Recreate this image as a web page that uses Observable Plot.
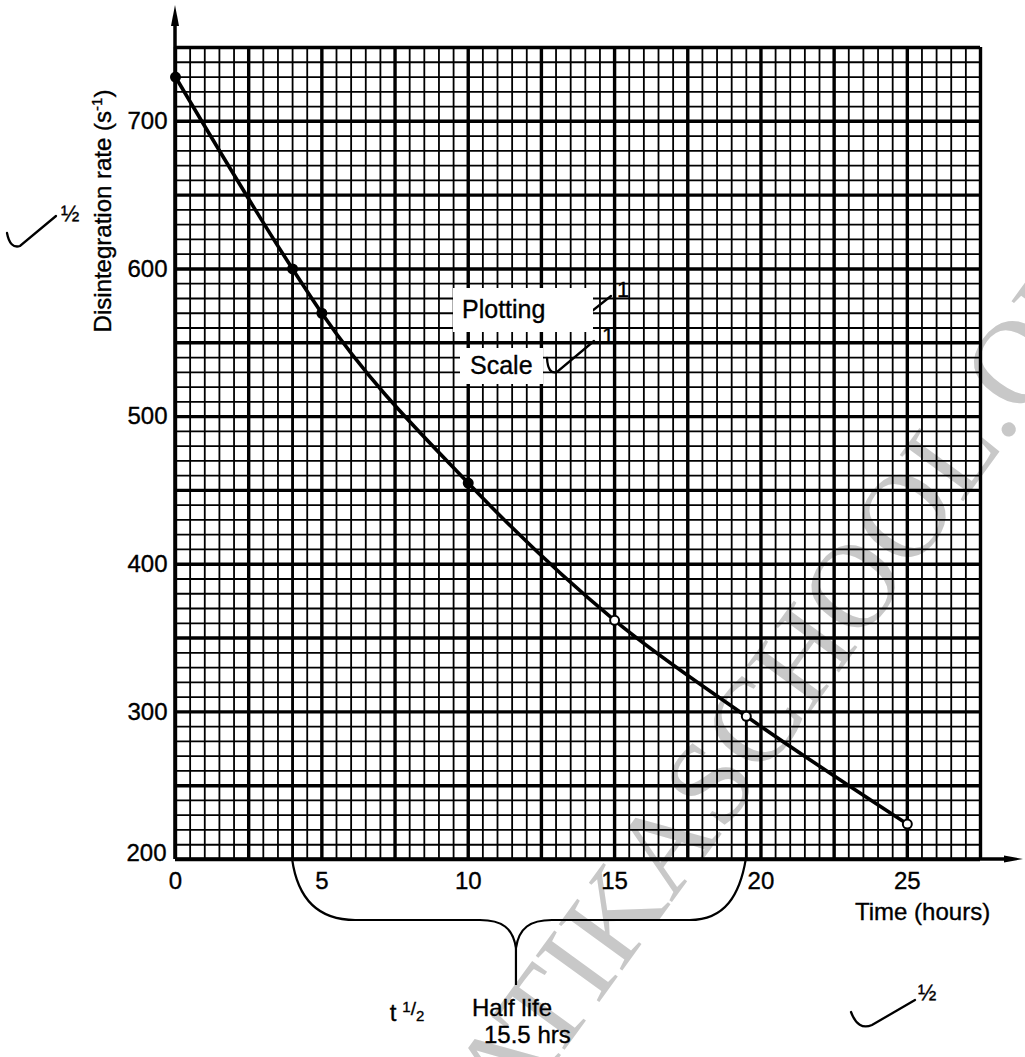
<!DOCTYPE html>
<html>
<head>
<meta charset="utf-8">
<script src="https://cdn.jsdelivr.net/npm/d3@7"></script>
<script src="https://cdn.jsdelivr.net/npm/@observablehq/plot@0.6"></script>
<style>
  body { margin: 0; background: #fff; }
  #chart svg text:not(.wm) { stroke: #000; stroke-width: 0.35px; }
</style>
</head>
<body>
<div id="chart"></div>
<script>
// ---- data ----
const times = [0, 4, 5, 10, 15, 19.5, 25];            // hours
const rates = [730, 600, 570, 455, 362, 297, 224];     // disintegration rate (s^-1)
const xTicks = [0, 5, 10, 15, 20, 25];
const yTicks = [200, 300, 400, 500, 600, 700];
const halfLifeTimes = [4, 19.5];
const halfLifeRates = [600, 300];
const xDomain = [0, 27.5];
const yDomain = [200, 750];

const FONT = "'Liberation Sans', Arial, Helvetica, sans-serif";

const points = times.map((t, i) => ({t, r: rates[i], i}));
const halfLife = halfLifeTimes.map((t, i) => ({t, r: halfLifeRates[i]}));
const minorX = d3.range(0, 56).map(i => i * 0.5);
const majorX = minorX.filter((v, i) => i % 5 === 0);
const minorY = d3.range(200, 751, 10);
const majorY = minorY.filter(v => (v - 200) % 50 === 0);

const plot = Plot.plot({
  width: 1025,
  height: 1057,
  marginLeft: 175,
  marginRight: 45,
  marginTop: 47,
  marginBottom: 198,
  style: {fontFamily: FONT, background: "white", color: "black", overflow: "visible"},
  x: {domain: xDomain},
  y: {domain: yDomain},
  marks: [
    Plot.ruleX(minorX, {y1: yDomain[0], y2: yDomain[1], stroke: "black", strokeWidth: 1.8}),
    Plot.ruleY(minorY, {x1: xDomain[0], x2: xDomain[1], stroke: "black", strokeWidth: 1.8}),
    Plot.ruleX(majorX, {y1: yDomain[0], y2: yDomain[1], stroke: "black", strokeWidth: 3.4}),
    Plot.ruleY(majorY, {x1: xDomain[0], x2: xDomain[1], stroke: "black", strokeWidth: 3.4}),
    Plot.ruleX(halfLife, {x: "t", y1: yDomain[0], y2: "r", stroke: "black", strokeWidth: 2.8}),
    Plot.line(points, {x: "t", y: "r", curve: "monotone-x", stroke: "black", strokeWidth: 3.6}),
    Plot.dot(points, {x: "t", y: "r", r: 4.5, stroke: "black", strokeWidth: 2,
                      fill: d => d.i < 4 ? "black" : "white"}),
    Plot.axisX({ticks: xTicks, tickSize: 0, tickPadding: 12, fontSize: 24, label: null}),
    Plot.axisY({ticks: yTicks.slice(1), tickSize: 0, tickPadding: 8, fontSize: 24, label: null}),
    Plot.text([yTicks[0]], {x: xDomain[0], y: d => d, text: d => String(d), textAnchor: "end",
                            dx: -9, dy: -6, fontSize: 24})
  ]
});
document.getElementById("chart").append(plot);

// ---- annotations drawn with the plot's scales ----
const svg = d3.select(plot);
const sx = plot.scale("x").apply, sy = plot.scale("y").apply;
const x0 = sx(xDomain[0]), y0 = sy(yDomain[0]);

// watermark (beneath everything)
svg.insert("text", "g")
  .attr("class", "wm")
  .attr("transform", "translate(808,646) rotate(-54)")
  .attr("text-anchor", "middle")
  .attr("dominant-baseline", "central")
  .attr("font-family", "'Liberation Serif', 'DejaVu Serif', serif")
  .attr("font-size", 120)
  .attr("fill", "#c8c8c8")
  .style("stroke", "none")
  .text("ATIKASCHOOL.ORG");

const g = svg.append("g").attr("fill", "none").attr("stroke", "black");

// axis lines with arrows
g.append("line").attr("x1", x0).attr("y1", y0).attr("x2", x0).attr("y2", 18).attr("stroke-width", 3.5);
svg.append("path").attr("d", `M${x0},5 L${x0 - 4},26 L${x0 + 4},26 Z`).attr("fill", "black");
g.append("line").attr("x1", x0).attr("y1", y0).attr("x2", 1012).attr("y2", y0).attr("stroke-width", 3.5);
svg.append("path").attr("d", `M1023,${y0} L1004,${y0 - 3.5} L1004,${y0 + 3.5} Z`).attr("fill", "black");

// half-life brace
const bx1 = sx(halfLifeTimes[0]), bx2 = sx(halfLifeTimes[1]), bm = (bx1 + bx2) / 2 - 3;
const by = y0 + 61, tipY = y0 + 89, stemY = y0 + 126;
g.append("path").attr("stroke-width", 2.2).attr("d",
  `M${bx1},${y0} C${bx1 + 5},${y0 + 36} ${bx1 + 23},${by} ${bx1 + 63},${by} ` +
  `L${bm - 36},${by} C${bm - 14},${by} ${bm - 3},${by + 8} ${bm},${tipY} ` +
  `C${bm + 3},${by + 8} ${bm + 14},${by} ${bm + 36},${by} ` +
  `L${bx2 - 56},${by} C${bx2 - 21},${by} ${bx2 - 6},${y0 + 36} ${bx2},${y0}`);
g.append("line").attr("stroke-width", 2.2).attr("x1", bm).attr("y1", tipY).attr("x2", bm).attr("y2", stemY);

const txt = (x, y, s, size = 25, anchor = "start") =>
  svg.append("text").attr("x", x).attr("y", y).attr("font-size", size)
     .attr("text-anchor", anchor).attr("fill", "black").attr("font-family", FONT).text(s);

// y-axis title
const yl = svg.append("text").attr("transform", "translate(111,211) rotate(-90)")
  .attr("text-anchor", "middle").attr("font-size", 24).attr("fill", "black").attr("font-family", FONT);
yl.append("tspan").text("Disintegration rate (s");
yl.append("tspan").attr("font-size", 15).attr("dy", -9).text("-1");
yl.append("tspan").attr("dy", 9).text(")");

// x-axis title
txt(855, 920, "Time (hours)", 24);

// half life labels
const th = svg.append("text").attr("x", 407).attr("y", 1021).attr("font-size", 24)
  .attr("fill", "black").attr("font-family", FONT);
th.append("tspan").text("t");
th.append("tspan").attr("dx", 6).attr("dy", -9).attr("font-size", 15).text("1");
th.append("tspan").attr("dy", 3).attr("font-size", 19).text("/");
th.append("tspan").attr("dy", 6).attr("font-size", 15).text("2");
txt(472, 1016, "Half life", 24);
txt(484, 1043, "15.5 hrs", 24);

// Plotting / Scale boxes
svg.append("rect").attr("x", 453).attr("y", 288).attr("width", 140).attr("height", 44).attr("fill", "white");
svg.append("rect").attr("x", 460).attr("y", 348).attr("width", 83).attr("height", 36).attr("fill", "white");
txt(462, 318, "Plotting", 25);
txt(470, 374, "Scale", 25);

// tick marks (check marks)
const ck = d => g.append("path").attr("stroke-width", 2.3).attr("stroke-linecap", "round").attr("d", d);
ck("M557,314 Q562,329 572,327 L611,296");
txt(617, 297, "1", 22);
ck("M547,358 Q548,375 557,372 L594,341");
txt(602, 343, "1", 22);
ck("M7,233 Q10,249 20,246 L56,216");
txt(61, 221, "½", 22);
ck("M851,1012 Q858,1031 872,1025 L915,1000");
txt(918, 1000, "½", 22);
</script>
</body>
</html>
